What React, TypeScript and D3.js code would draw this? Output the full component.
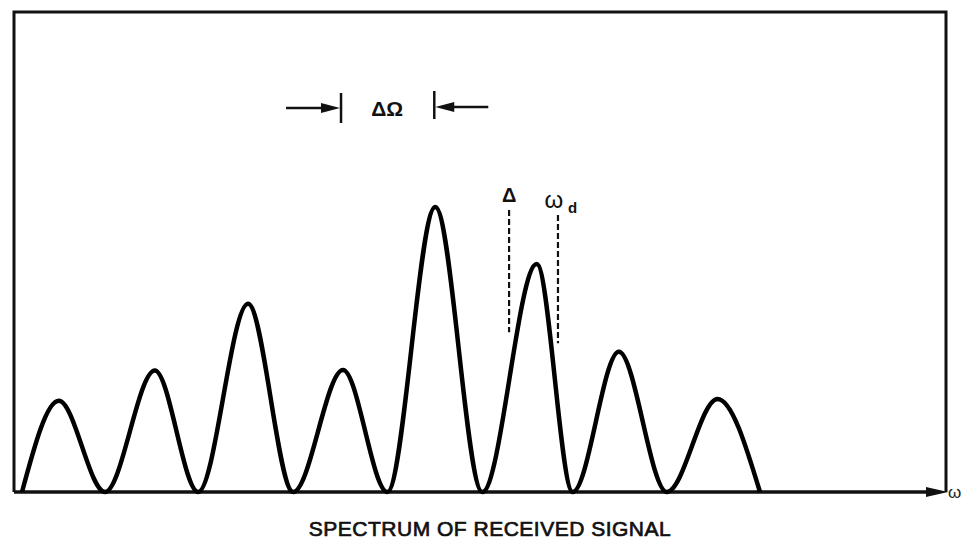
import React from "react";
import * as d3 from "d3";

// Frequency positions (units of ΔΩ) of the zeros and peaks of the spectrum
const troughPos = [0, 0.9, 1.91, 2.94, 3.96, 4.99, 5.97, 6.99, 8.0];
const peakPos = [0.4, 1.44, 2.45, 3.48, 4.48, 5.58, 6.47, 7.54];
const peakAmp = [0.19, 0.253, 0.392, 0.254, 0.594, 0.475, 0.292, 0.194];

// dashed markers
const markerPos = [5.28, 5.81];
const markerTop = [0.5875, 0.577];
const markerBottom = [0.333, 0.31];
const markerLabel = ["Δ", "ω"];
const markerSub = ["", "d"];

// ΔΩ spacing indicator between peaks index 3 and 4
const spacingPeaks = [3, 4];
const spacingLabel = "ΔΩ";
const caption = "SPECTRUM OF RECEIVED SIGNAL";
const axisLabel = "ω";

const W = 964;
const H = 547;

export default function App() {
  const x = d3.scaleLinear().domain([0, 8]).range([22, 760]);
  const y = d3.scaleLinear().domain([0, 1]).range([492, 12]);

  const pts: [number, number][] = [];
  troughPos.forEach((t, i) => {
    pts.push([t, 0]);
    if (i < peakPos.length) pts.push([peakPos[i], peakAmp[i]]);
  });
  const line = d3
    .line<[number, number]>()
    .x((d) => x(d[0]))
    .y((d) => y(d[1]))
    .curve(d3.curveMonotoneX);

  const left = 14;
  const right = 946;
  const top = 12;
  const base = y(0);

  const xa = x(peakPos[spacingPeaks[0]]);
  const xb = x(peakPos[spacingPeaks[1]]);
  const ay = 108;

  return (
    <svg
      width={W}
      height={H}
      style={{ position: "absolute", left: 0, top: 0, background: "#fff" }}
      fontFamily="Liberation Sans, Arial, sans-serif"
    >
      <rect width={W} height={H} fill="#fff" />
      {/* frame */}
      <path
        d={`M${left},${base} L${left},${top} L${right},${top} L${right},${base}`}
        fill="none"
        stroke="#111"
        strokeWidth={3}
      />
      {/* baseline axis with arrow */}
      <line x1={left} y1={base} x2={right - 12} y2={base} stroke="#111" strokeWidth={3.5} />
      <path d={`M${right + 2},${base} L${right - 20},${base - 5} L${right - 20},${base + 5} Z`} fill="#111" />
      <text x={right + 2} y={base + 6} fontSize={17} fill="#222">
        {axisLabel}
      </text>

      {/* spectrum */}
      <path d={line(pts) || ""} fill="none" stroke="#000" strokeWidth={4.5} strokeLinejoin="round" />

      {/* dashed markers */}
      {markerPos.map((m, i) => (
        <g key={i}>
          <line
            x1={x(m)}
            x2={x(m)}
            y1={y(markerTop[i])}
            y2={y(markerBottom[i])}
            stroke="#111"
            strokeWidth={2.2}
            strokeDasharray="6,3"
          />
          <text
            x={x(m) + (markerSub[i] ? -4 : 0)}
            y={y(markerTop[i]) - (markerSub[i] ? 7 : 8)}
            fontSize={markerSub[i] ? 24 : 20}
            fontWeight={markerSub[i] ? "normal" : "bold"}
            textAnchor="middle"
            fill="#111"
          >
            {markerLabel[i]}
          </text>
          {markerSub[i] && (
            <text x={x(m) + 10} y={y(markerTop[i]) - 2} fontSize={15} fontWeight="bold" fill="#111">
              {markerSub[i]}
            </text>
          )}
        </g>
      ))}

      {/* ΔΩ spacing indicator */}
      <line x1={xa - 2} y1={ay - 15} x2={xa - 2} y2={ay + 15} stroke="#111" strokeWidth={2.5} />
      <line x1={xa - 57} y1={ay} x2={xa - 14} y2={ay} stroke="#111" strokeWidth={2.5} />
      <path d={`M${xa - 3},${ay} L${xa - 22},${ay - 5} L${xa - 22},${ay + 5} Z`} fill="#111" />
      <line x1={xb - 1} y1={ay - 17} x2={xb - 1} y2={ay + 11} stroke="#111" strokeWidth={2.5} />
      <line x1={xb + 12} y1={ay - 1} x2={xb + 53} y2={ay - 1} stroke="#111" strokeWidth={2.5} />
      <path d={`M${xb},${ay - 1} L${xb + 19},${ay - 6} L${xb + 19},${ay + 4} Z`} fill="#111" />
      <text x={(xa + xb) / 2 - 2} y={ay + 8} fontSize={21} fontWeight="bold" textAnchor="middle" fill="#111">
        {spacingLabel}
      </text>

      {/* caption */}
      <text
        x={490}
        y={536}
        fontSize={21}
        textAnchor="middle"
        fill="#111"
        stroke="#111"
        strokeWidth={0.7}
        letterSpacing={0.5}
      >
        {caption}
      </text>
    </svg>
  );
}
